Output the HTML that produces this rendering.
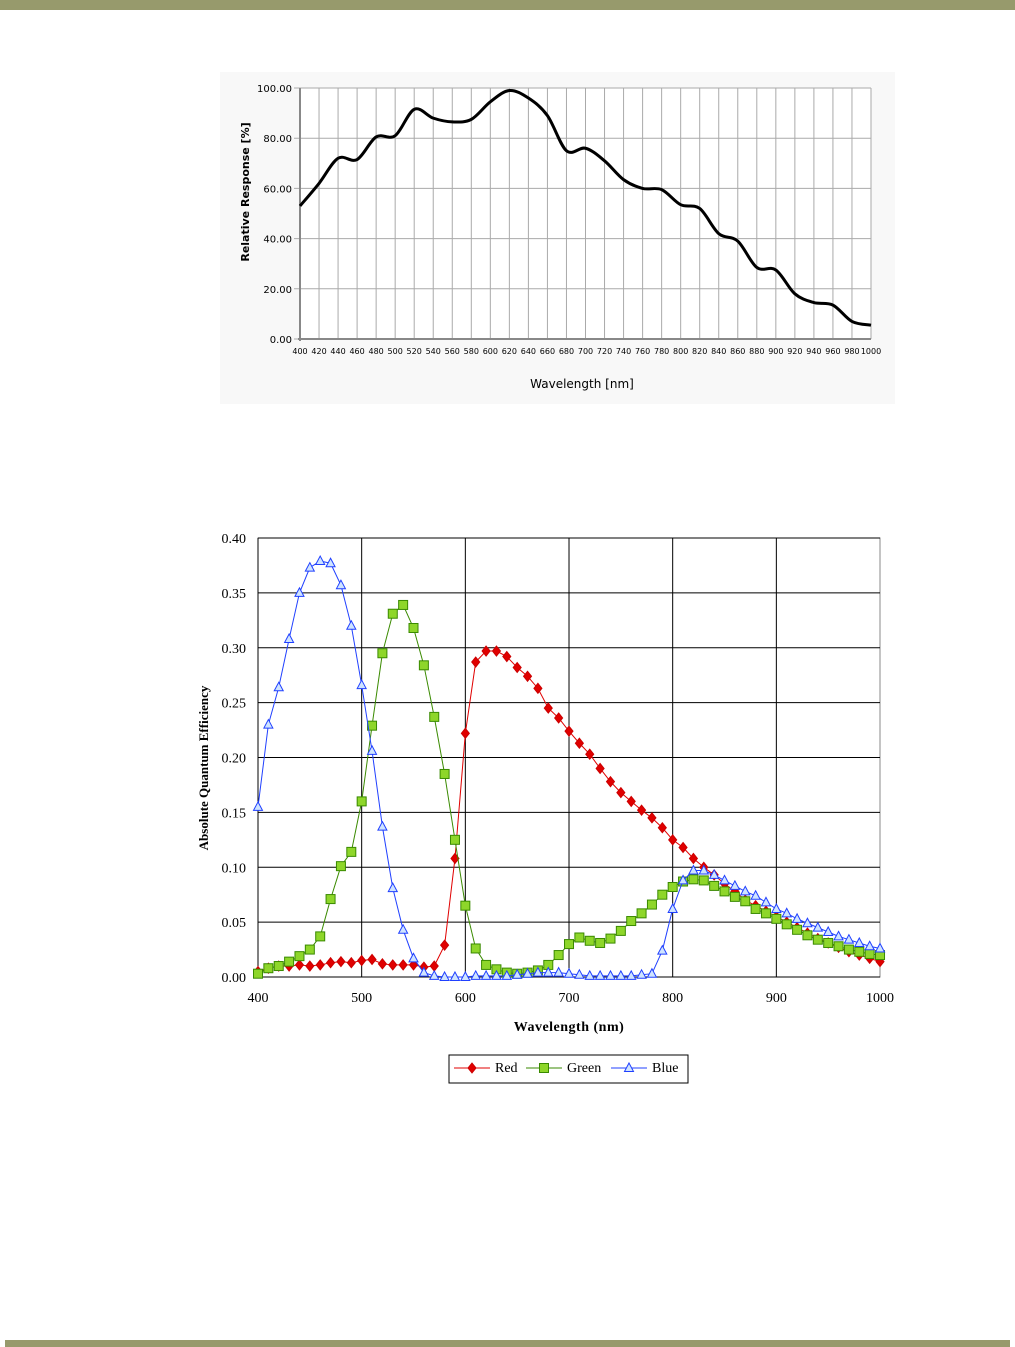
<!DOCTYPE html>
<html><head><meta charset="utf-8"><style>
html,body{margin:0;padding:0;background:#fff;}
body{width:1015px;height:1347px;position:relative;overflow:hidden;}
</style></head><body>
<div style="position:absolute;left:0;top:0;width:1015px;height:10px;background:#979a6c"></div>
<div style="position:absolute;left:5px;top:1340px;width:1005px;height:7px;background:#979a6c"></div>
<svg id="s" width="1015" height="1347" style="position:absolute;left:0;top:0"></svg>
<script>
const NS="http://www.w3.org/2000/svg";const s=document.getElementById('s');
function el(t,a,txt){const e=document.createElementNS(NS,t);for(const k in a)e.setAttribute(k,a[k]);if(txt!==undefined)e.textContent=txt;s.appendChild(e);return e;}
// Chart 1
el('rect',{x:220,y:72,width:675,height:332,fill:'#f8f8f8'});
el('rect',{x:300,y:88,width:571,height:251,fill:'#fff'});
const X1=l=>300+(l-400)*571/600, Y1=v=>339-v*2.51;
for(let l=400;l<=1000;l+=20){el('line',{x1:X1(l),y1:88,x2:X1(l),y2:339,stroke:'#aaa','stroke-width':1});
 el('text',{x:X1(l),y:354,'font-size':8,'font-family':'DejaVu Sans, sans-serif','text-anchor':'middle',fill:'#000'},l);}
for(let v=0;v<=100;v+=20){el('line',{x1:294,y1:Y1(v),x2:871,y2:Y1(v),stroke:'#aaa','stroke-width':1});
 el('text',{x:292,y:Y1(v)+4,'font-size':10,'font-family':'DejaVu Sans, sans-serif','text-anchor':'end',fill:'#000'},v.toFixed(2));}
el('line',{x1:300,y1:88,x2:300,y2:341,stroke:'#888','stroke-width':2});
el('line',{x1:298,y1:339,x2:871,y2:339,stroke:'#888','stroke-width':2});
el('text',{x:582,y:388,'font-size':12,'font-family':'DejaVu Sans, sans-serif','text-anchor':'middle',fill:'#000'},'Wavelength [nm]');
el('text',{x:0,y:0,'font-size':11,'font-weight':'bold','font-family':'DejaVu Sans, sans-serif','text-anchor':'middle',fill:'#000',transform:'translate(249,192) rotate(-90)'},'Relative Response [%]');
const c1=[[400,53],[420,62],[440,72],[460,71.5],[480,80.5],[500,81],[520,91.5],[540,88],[560,86.5],[580,87.5],[600,94.5],[620,99],[640,96],[660,89],[680,75],[700,76],[720,71],[740,63.5],[760,60],[780,59.5],[800,53.5],[820,52],[840,42],[860,39],[880,28.5],[900,27.5],[920,18],[940,14.5],[960,13.5],[980,7],[1000,5.5]].map(p=>[X1(p[0]),Y1(p[1])]);
let d='M'+c1[0];for(let i=0;i<c1.length-1;i++){const p0=c1[Math.max(0,i-1)],p1=c1[i],p2=c1[i+1],p3=c1[Math.min(c1.length-1,i+2)];
d+=` C${p1[0]+(p2[0]-p0[0])/6},${p1[1]+(p2[1]-p0[1])/6} ${p2[0]-(p3[0]-p1[0])/6},${p2[1]-(p3[1]-p1[1])/6} ${p2[0]},${p2[1]}`;}
el('path',{d:d,fill:'none',stroke:'#000','stroke-width':3});
// Chart 2
const X2=l=>258+(l-400)*1.0367, Y2=v=>977-v*1097.5;
el('rect',{x:258,y:538,width:622,height:439,fill:'#fff',stroke:'#888'});
for(let l=500;l<1000;l+=100)el('line',{x1:X2(l),y1:538,x2:X2(l),y2:977,stroke:'#000'});
for(let v=0.05;v<0.4;v+=0.05)el('line',{x1:258,y1:Y2(v),x2:880,y2:Y2(v),stroke:'#000'});
el('line',{x1:258,y1:538,x2:258,y2:977,stroke:'#000'});el('line',{x1:258,y1:977,x2:880,y2:977,stroke:'#000'});
const F='Liberation Serif, serif';
for(let l=400;l<=1000;l+=100)el('text',{x:X2(l),y:1002,'font-size':14,'font-family':F,'text-anchor':'middle'},l);
for(let i=0;i<=8;i++)el('text',{x:246,y:Y2(i*0.05)+5,'font-size':14,'font-family':F,'text-anchor':'end'},(i*0.05).toFixed(2));
el('text',{x:569,y:1031,'font-size':14,'font-weight':'bold','font-family':F,'text-anchor':'middle','letter-spacing':'0.5'},'Wavelength (nm)');
el('text',{x:0,y:0,'font-size':13,'font-weight':'bold','font-family':F,'text-anchor':'middle',transform:'translate(208,768) rotate(-90)'},'Absolute Quantum Efficiency');
const R=[.005,.008,.01,.01,.011,.01,.011,.013,.014,.013,.015,.016,.012,.011,.011,.011,.009,.01,.029,.108,.222,.287,.297,.297,.292,.282,.274,.263,.245,.236,.224,.213,.203,.19,.178,.168,.16,.152,.145,.136,.125,.118,.108,.1,.093,.085,.078,.07,.065,.06,.055,.05,.045,.04,.035,.031,.027,.023,.02,.017,.014];
const G=[.003,.008,.01,.014,.019,.025,.037,.071,.101,.114,.16,.229,.295,.331,.339,.318,.284,.237,.185,.125,.065,.026,.011,.007,.004,.003,.004,.006,.011,.02,.03,.036,.033,.031,.035,.042,.051,.058,.066,.075,.082,.087,.089,.088,.083,.078,.073,.069,.062,.058,.053,.048,.043,.038,.034,.031,.028,.025,.023,.021,.02];
const B=[.155,.23,.264,.308,.35,.373,.379,.377,.357,.32,.266,.206,.137,.081,.043,.017,.004,.001,0,0,0,.001,.001,.001,.001,.002,.003,.004,.004,.004,.003,.002,.001,.001,.001,.001,.001,.002,.003,.024,.062,.088,.097,.097,.093,.088,.083,.078,.074,.068,.062,.058,.053,.049,.045,.041,.037,.034,.031,.028,.026];
function marker(t,x,y){if(t=='r')el('path',{d:`M${x},${y-5}L${x+4},${y}L${x},${y+5}L${x-4},${y}Z`,fill:'#e00000',stroke:'#c00'});
else if(t=='g')el('rect',{x:x-4.5,y:y-4.5,width:9,height:9,fill:'#8ed62a',stroke:'#3a8a00'});
else el('path',{d:`M${x},${y-5}L${x+4.5},${y+3.5}L${x-4.5},${y+3.5}Z`,fill:'#cfe4ff',stroke:'#2040ff'});}
function series(a,col,t){el('polyline',{points:a.map((v,i)=>X2(400+i*10)+','+Y2(v)).join(' '),fill:'none',stroke:col,'stroke-width':1});
a.forEach((v,i)=>marker(t,X2(400+i*10),Y2(v)));}
series(R,'#e00000','r');series(G,'#3a8a00','g');series(B,'#2040ff','b');
el('rect',{x:449,y:1055,width:239,height:28,fill:'#fff',stroke:'#000'});
el('line',{x1:454,y1:1068,x2:490,y2:1068,stroke:'#e00000'});marker('r',472,1068);
el('text',{x:495,y:1072,'font-size':14,'font-family':F},'Red');
el('line',{x1:526,y1:1068,x2:562,y2:1068,stroke:'#3a8a00'});marker('g',544,1068);
el('text',{x:567,y:1072,'font-size':14,'font-family':F},'Green');
el('line',{x1:611,y1:1068,x2:647,y2:1068,stroke:'#2040ff'});marker('b',629,1068);
el('text',{x:652,y:1072,'font-size':14,'font-family':F},'Blue');
</script>
</body></html>
